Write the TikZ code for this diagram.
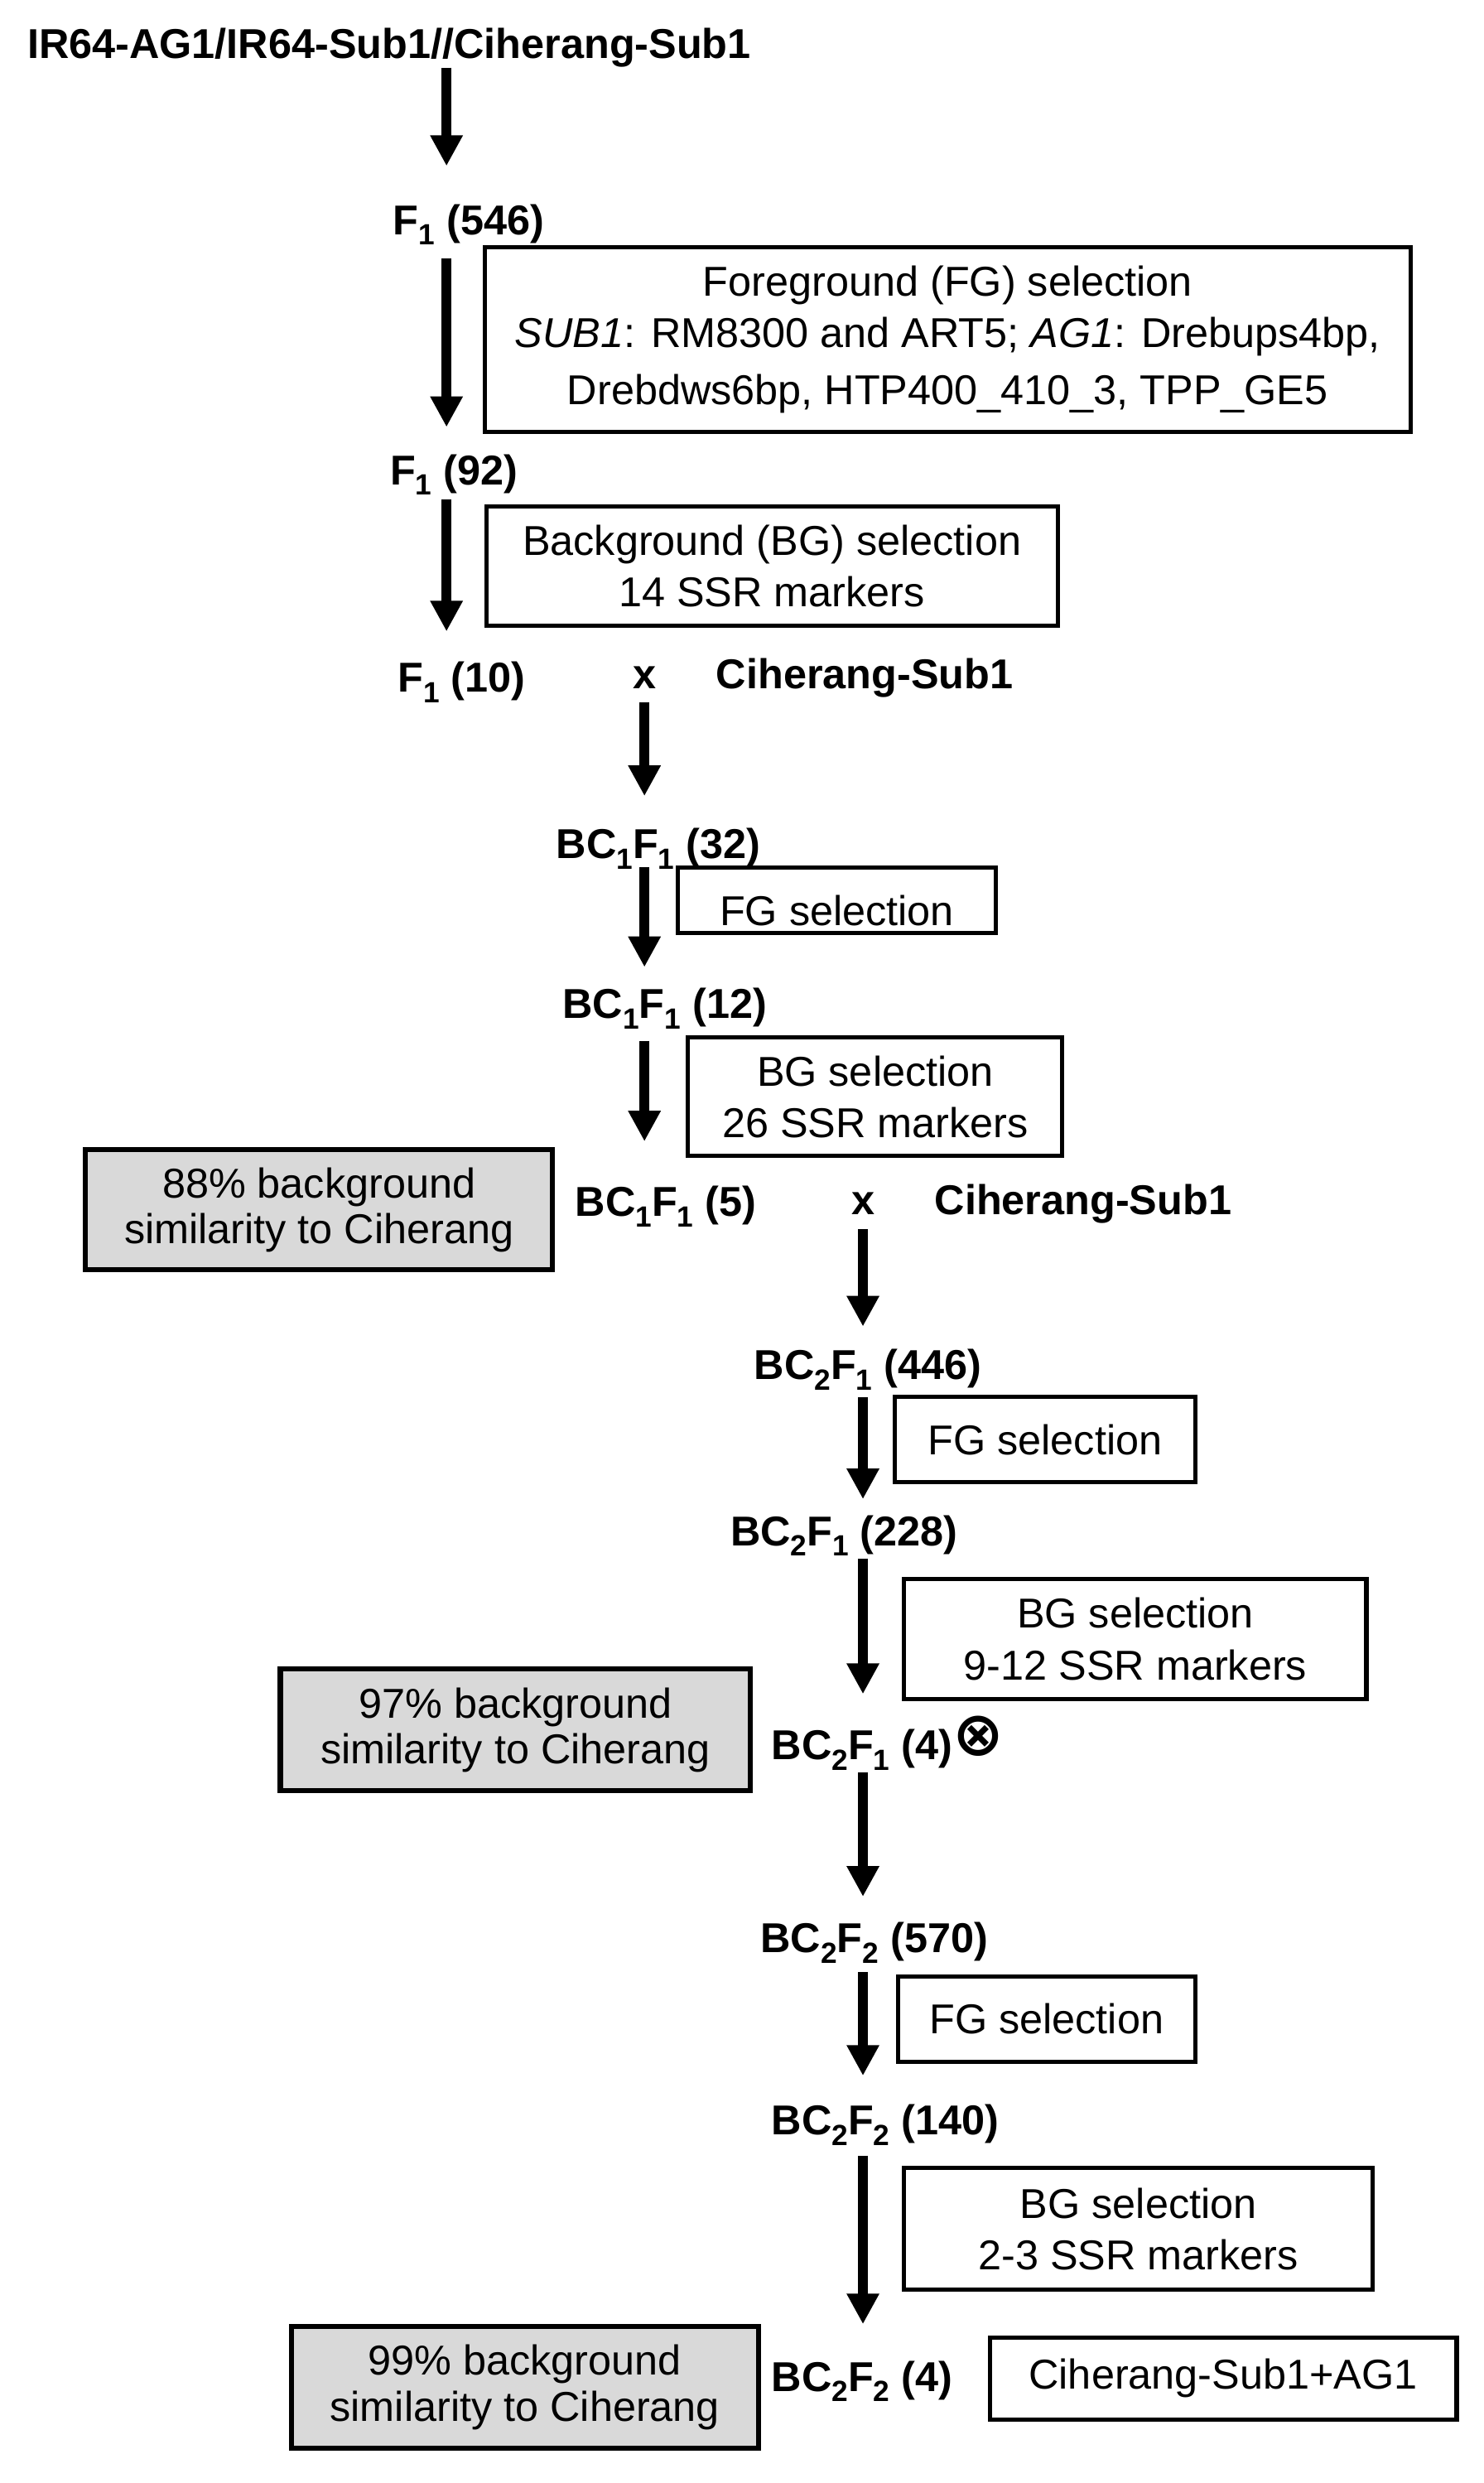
\documentclass[tikz,border=0pt]{standalone}
\usepackage{fontspec}
\setmainfont{Liberation Sans}
\newfontfamily\symfont{DejaVu Sans}
\usetikzlibrary{arrows.meta, calc}
\definecolor{boxgrey}{HTML}{D9D9D9}
\newcommand{\lowsub}[1]{\raisebox{-3.8pt}{\fontsize{10.5}{10.5}\selectfont #1}}

\begin{document}
\begin{tikzpicture}[x=0.02cm, y=-0.02cm,
  font=\fontsize{15}{18.5}\selectfont,
  gen/.style={anchor=west, inner sep=0pt, text height=11pt, text depth=3pt,
    font=\fontsize{15}{18.5}\selectfont\bfseries},
  selbox/.style={draw, line width=1.5pt, align=center, inner sep=0pt},
  simbox/.style={selbox, fill=boxgrey, line width=1.8pt,
    font=\fontsize{15}{16.5}\selectfont},
  flow/.style={-{Triangle[width=11pt, length=11pt]}, line width=3.4pt}]
  \useasboundingbox (0,0) rectangle (937,1568);
  \coordinate (colA) at (282,0);
  \coordinate (colB) at (407,0);
  \coordinate (colC) at (545,0);

  \node[gen] (parents) at (17,30) {IR64-AG1/IR64-Sub1//Ciherang-Sub1};
  \node[gen] (f546) at (248,141) {F\lowsub{1} (546)};
  \node[gen] (f92) at (246,299) {F\lowsub{1} (92)};
  \node[gen] (f10) at (251,430) {F\lowsub{1} (10)};
  \node[gen, anchor=center] (x1) at (407,428) {x};
  \node[gen] (rp1) at (452,428) {Ciherang-Sub1};
  \node[gen] (bc32) at (351,535) {BC\lowsub{1}F\lowsub{1} (32)};
  \node[gen] (bc12) at (355,636) {BC\lowsub{1}F\lowsub{1} (12)};
  \node[gen] (bc5) at (363,761) {BC\lowsub{1}F\lowsub{1} (5)};
  \node[gen, anchor=center] (x2) at (545,760) {x};
  \node[gen] (rp2) at (590,760) {Ciherang-Sub1};
  \node[gen] (bc446) at (476,864) {BC\lowsub{2}F\lowsub{1} (446)};
  \node[gen] (bc228) at (461,969) {BC\lowsub{2}F\lowsub{1} (228)};
  \node[gen] (bc4) at (487,1104)
    {BC\lowsub{2}F\lowsub{1} (4)\raisebox{1.5pt}[11pt][0pt]{\fontsize{22}{22}\symfont\bfseries ⊗}};
  \node[gen] (bc570) at (480,1226) {BC\lowsub{2}F\lowsub{2} (570)};
  \node[gen] (bc140) at (487,1341) {BC\lowsub{2}F\lowsub{2} (140)};
  \node[gen] (bc4b) at (487,1503) {BC\lowsub{2}F\lowsub{2} (4)};

  \node[selbox, minimum width=11.7cm, minimum height=2.34cm] (fgA) at (598.5,214.5)
    {Foreground (FG) selection\\ \textit{SUB1}: RM8300 and ART5; \textit{AG1}: Drebups4bp,\\[2pt]
     Drebdws6bp, HTP400\_410\_3, TPP\_GE5};
  \node[selbox, minimum width=7.22cm, minimum height=1.5cm] (bgA) at (487.5,357.5)
    {Background (BG) selection\\ 14 SSR markers};
  \node[selbox, minimum width=4.02cm, minimum height=0.82cm] (fgB) at (528.5,568.5)
    {\raisebox{-5pt}[11pt][3pt]{FG selection}};
  \node[selbox, minimum width=4.73cm, minimum height=1.5cm] (bgB) at (552.75,692.5)
    {BG selection\\ 26 SSR markers};
  \node[simbox, minimum width=5.9cm, minimum height=1.52cm] (simA) at (201.5,764)
    {88\% background\\ similarity to Ciherang};
  \node[selbox, minimum width=3.8cm, minimum height=1.08cm] (fgC) at (660,909)
    {FG selection};
  \node[selbox, minimum width=5.84cm, minimum height=1.52cm] (bgC) at (717,1035)
    {BG selection\\ 9-12 SSR markers};
  \node[simbox, minimum width=5.94cm, minimum height=1.54cm] (simB) at (325.5,1092.5)
    {97\% background\\ similarity to Ciherang};
  \node[selbox, minimum width=3.76cm, minimum height=1.08cm] (fgD) at (661,1275)
    {FG selection};
  \node[selbox, minimum width=5.92cm, minimum height=1.54cm] (bgD) at (719,1407.5)
    {BG selection\\ 2-3 SSR markers};
  \node[simbox, minimum width=5.9cm, minimum height=1.54cm] (simC) at (331.5,1507.5)
    {99\% background\\ similarity to Ciherang};
  \node[selbox, minimum width=5.9cm, minimum height=1.04cm] (final) at (772.5,1502)
    {Ciherang-Sub1+AG1};

  \foreach \src/\dst/\col/\s/\t in {parents/f546/colA/0/13.4, f546/f92/colA/5.5/9.5,
      f92/f10/colA/2/10.6, x1/bc32/colB/1.5/11.2, bc32/bc12/colB/0/7.2,
      bc12/bc5/colB/4.9/15.7, x2/bc446/colC/2/7.8, bc446/bc228/colC/3.2/5.5,
      bc228/bc4/colC/1.5/12.3, bc4/bc570/colC/1.5/8.9, bc570/bc140/colC/3.8/10,
      bc140/bc4b/colC/4.4/12.9}{%
    \draw[flow, shorten <=\s pt, shorten >=\t pt] (\src.south -| \col) -- (\dst.north -| \col);}
\end{tikzpicture}
\end{document}
